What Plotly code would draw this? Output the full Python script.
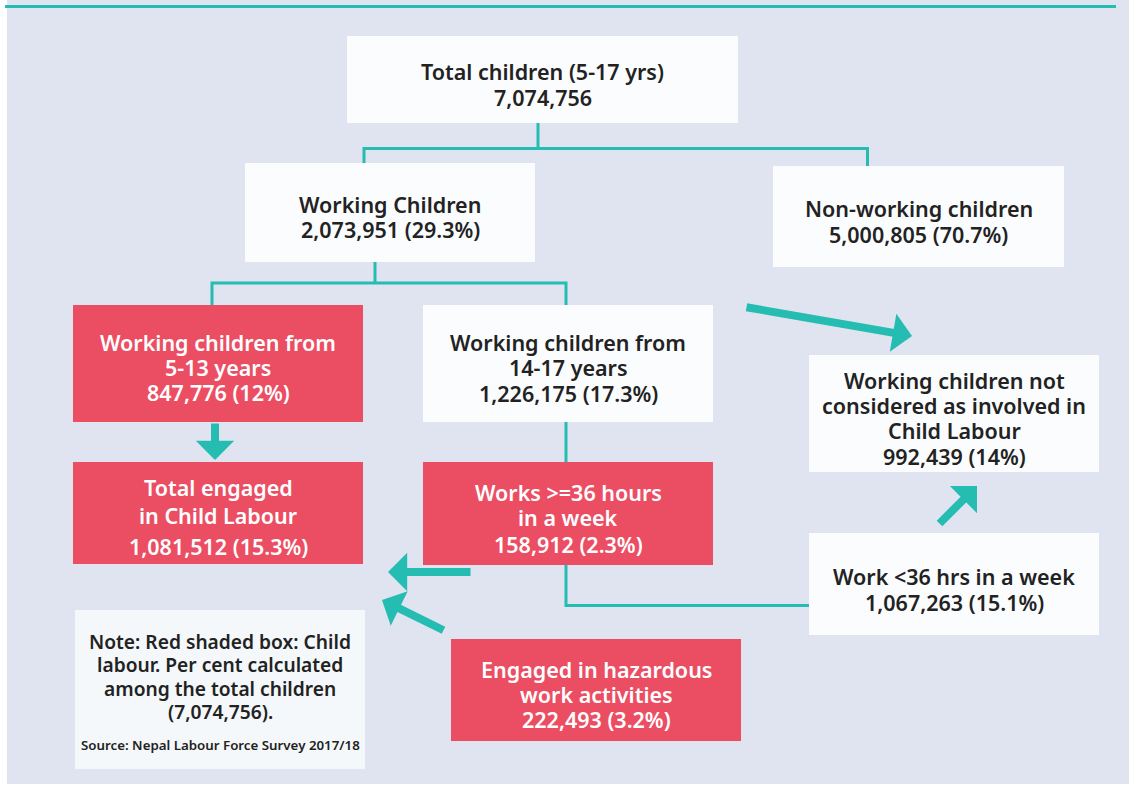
import plotly.graph_objects as go

# ---------------- data ----------------
node_titles = [
    "Total children (5-17 yrs)",
    "Working Children",
    "Non-working children",
    "Working children from<br>5-13 years",
    "Working children from<br>14-17 years",
    "Total engaged<br>in Child Labour",
    "Works &gt;=36 hours<br>in a week",
    "Working children not<br>considered as involved in<br>Child Labour",
    "Work &lt;36 hrs in a week",
    "Engaged in hazardous<br>work activities",
]
node_counts = [7074756, 2073951, 5000805, 847776, 1226175, 1081512,
               158912, 992439, 1067263, 222493]
node_pcts = [None, "29.3", "70.7", "12", "17.3", "15.3", "2.3", "14", "15.1", "3.2"]
is_child_labour = [False, False, False, True, False, True, True, False, False, True]

note_lines = ["Note: Red shaded box: Child", "labour. Per cent calculated",
              "among the total children", "(7,074,756)."]
source_text = "Source: Nepal Labour Force Survey 2017/18"

# ---------------- layout (pixel positions) ----------------
W, H = 1129, 789
boxes = [
    (347, 36, 738, 123),
    (245, 163, 535, 262),
    (773, 166, 1064, 267),
    (73, 305, 363, 422),
    (423, 305, 713, 422),
    (73, 462, 363, 564),
    (423, 462, 713, 565),
    (809, 355, 1099, 472),
    (809, 533, 1099, 635),
    (451, 639, 741, 741),
]
line_ys = [
    [71, 97],
    [204, 229],
    [208, 234],
    [342, 367, 392],
    [342, 367, 393],
    [487, 515, 546],
    [492, 517, 544],
    [380, 405, 430, 456],
    [576, 602],
    [669, 694, 719],
]
connectors = [
    [(538, 123), (538, 148.5)],
    [(364, 163.5), (364, 148.5), (867.5, 148.5), (867.5, 167)],
    [(375, 262), (375, 283)],
    [(212, 305), (212, 283), (566, 283), (566, 305)],
    [(566, 422), (566, 462)],
    [(566, 565), (566, 605.5), (809, 605.5)],
]
arrows = [  # (tail x, tail y, tip x, tip y)
    (215, 422, 215, 460),
    (472, 572, 388, 572),
    (445, 631, 382, 600),
    (745, 307, 912, 336),
    (938, 525, 977, 486),
]

RED = "#eb4e63"
TEAL = "#25bcb2"
BG = "#e0e4f0"
WHITE_BOX = "#fbfcfe"
NOTE_BOX = "#f4f8fa"
DARK = "#222222"
FONT = "Noto Sans"

fig = go.Figure()
shapes = []
annotations = []

# background panel
shapes.append(dict(type="rect", xref="x", yref="y", x0=7, y0=0, x1=W, y1=784,
                   fillcolor=BG, line=dict(width=0), layer="below"))
# top rule
shapes.append(dict(type="line", xref="x", yref="y", x0=5, y0=6.5, x1=1116, y1=6.5,
                   line=dict(color=TEAL, width=3)))

# connectors
for pts in connectors:
    path = "M " + " L ".join(f"{x},{y}" for x, y in pts)
    shapes.append(dict(type="path", xref="x", yref="y", path=path,
                       line=dict(color=TEAL, width=3)))

# boxes + text
for i, (title, cnt, pct, red) in enumerate(zip(node_titles, node_counts, node_pcts, is_child_labour)):
    x0, y0, x1, y1 = boxes[i]
    shapes.append(dict(type="rect", xref="x", yref="y", x0=x0, y0=y0, x1=x1, y1=y1,
                       fillcolor=RED if red else WHITE_BOX, line=dict(width=0)))
    value = f"{cnt:,}" + (f" ({pct}%)" if pct is not None else "")
    lines = title.split("<br>") + [value]
    cx = (x0 + x1) / 2
    for txt, yy in zip(lines, line_ys[i]):
        annotations.append(dict(x=cx, y=yy, xref="x", yref="y", text=txt, showarrow=False,
                                xanchor="center", yanchor="middle",
                                font=dict(family=FONT, size=21.5, weight=600,
                                          color="white" if red else DARK)))

# note box
shapes.append(dict(type="rect", xref="x", yref="y", x0=75, y0=610, x1=365, y1=769,
                   fillcolor=NOTE_BOX, line=dict(width=0)))
for txt, yy in zip(note_lines, [641, 664, 688, 711]):
    annotations.append(dict(x=220, y=yy, xref="x", yref="y", text=txt, showarrow=False,
                            xanchor="center", yanchor="middle",
                            font=dict(family=FONT, size=19.2, weight=600, color=DARK)))
annotations.append(dict(x=220, y=745, xref="x", yref="y", text=source_text, showarrow=False,
                        xanchor="center", yanchor="middle",
                        font=dict(family=FONT, size=13.3, weight=600, color=DARK)))

# arrows
for tx, ty, hx, hy in arrows:
    annotations.append(dict(x=hx, y=hy, ax=tx, ay=ty, xref="x", yref="y", axref="x", ayref="y",
                            text="", showarrow=True, arrowhead=1, arrowsize=0.8, arrowwidth=8,
                            arrowcolor=TEAL, standoff=0, startstandoff=0))

fig.update_layout(
    width=W, height=H, margin=dict(l=0, r=0, t=0, b=0),
    paper_bgcolor="white", plot_bgcolor="white",
    xaxis=dict(range=[0, W], visible=False, fixedrange=True),
    yaxis=dict(range=[H, 0], visible=False, fixedrange=True),
    shapes=shapes, annotations=annotations, showlegend=False,
)
fig.write_html("out.html", config={"displayModeBar": False},
               post_script="document.body.style.margin='0';")
